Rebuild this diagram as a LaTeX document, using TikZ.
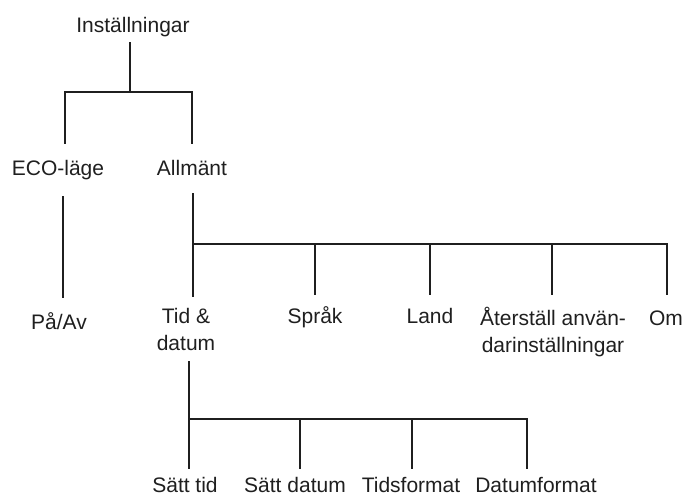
\documentclass[tikz,border=0pt]{standalone}
\usepackage{fontspec}
\setmainfont{Liberation Sans}
\begin{document}
\begin{tikzpicture}[x=1pt,y=-1pt,
  lbl/.style={anchor=base,inner sep=0pt,align=center,text=black!88,font=\fontsize{21}{27}\selectfont},
  conn/.style={line width=2.9pt,draw=black!88,line cap=rect}]
\useasboundingbox (0,0) rectangle (685,496);
% nodes
\node[lbl] (root) at (133,32) {Inställningar};
\node[lbl] (eco) at (58,175) {ECO-läge};
\node[lbl] (allm) at (192,175) {Allmänt};
\node[lbl] (paav) at (59,329) {På/Av};
\node[lbl] (tid) at (186,350) {Tid \&\\datum};
\node[lbl] (sprak) at (315,323) {Språk};
\node[lbl] (land) at (430,323) {Land};
\node[lbl] (ater) at (553,352) {Återställ använ-\\darinställningar};
\node[lbl] (om) at (666,325) {Om};
\node[lbl] (sattid) at (185,492) {Sätt tid};
\node[lbl] (sattdat) at (295,492) {Sätt datum};
\node[lbl] (tidsf) at (411,492) {Tidsformat};
\node[lbl] (datf) at (536,492) {Datumformat};
% junction coordinates
\coordinate (r1) at (130,43);
\coordinate (r2) at (130,92);
\coordinate (rl) at (65,92);
\coordinate (rr) at (192,92);
\coordinate (rle) at (65,143);
\coordinate (rre) at (192,143);
\coordinate (e1) at (63,197);
\coordinate (e2) at (63,297);
\coordinate (a1) at (193,194);
\coordinate (a2) at (193,296);
\coordinate (ab) at (193,244);
\coordinate (abr) at (667,244);
\coordinate (d1) at (315,294);
\coordinate (d2) at (430,294);
\coordinate (d3) at (552,294);
\coordinate (d4) at (667,294);
\coordinate (t1) at (189,362);
\coordinate (t2) at (189,468);
\coordinate (tb) at (189,419);
\coordinate (tbr) at (527,419);
\coordinate (s2) at (300,468);
\coordinate (s3) at (412,468);
\coordinate (s4) at (527,468);
% connectors
\draw[conn] (r1) -- (r2);
\draw[conn] (rle) -- (rl) -- (rr) -- (rre);
\draw[conn] (e1) -- (e2);
\draw[conn] (a1) -- (a2);
\draw[conn] (ab) -- (abr) -- (d4);
\draw[conn] (d1 |- ab) -- (d1);
\draw[conn] (d2 |- ab) -- (d2);
\draw[conn] (d3 |- ab) -- (d3);
\draw[conn] (t1) -- (t2);
\draw[conn] (tb) -- (tbr) -- (s4);
\draw[conn] (s2 |- tb) -- (s2);
\draw[conn] (s3 |- tb) -- (s3);
\end{tikzpicture}
\end{document}
